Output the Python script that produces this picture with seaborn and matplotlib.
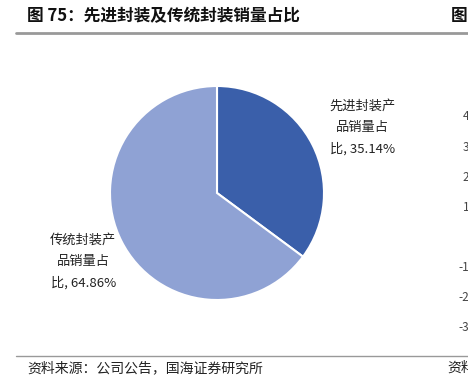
import matplotlib
matplotlib.use("Agg")
import matplotlib.pyplot as plt
import seaborn as sns

# 数据
categories = ["先进封装产\n品销量占\n比", "传统封装产\n品销量占\n比"]
shares = [35.14, 64.86]
colors = ["#3A5FAA", "#8FA2D4"]
side_ticks = ["40", "30", "20", "10", "0", "-10", "-20", "-30"]

sns.set_style("white")
plt.rcParams["font.family"] = ["Noto Sans CJK SC", "DejaVu Sans"]

W, H = 468, 385
fig = plt.figure(figsize=(W / 100, H / 100), dpi=100)

def px(x, y):
    return x / W, 1 - y / H

# 饼图
cx, cy, r = 217, 193, 107
ax = fig.add_axes([(cx - r) / W, 1 - (cy + r) / H, 2 * r / W, 2 * r / H])
ax.pie(shares, colors=colors, startangle=90, counterclock=False,
       wedgeprops=dict(edgecolor="white", linewidth=1.5))
ax.set_xlim(-1, 1)
ax.set_ylim(-1, 1)
ax.set_aspect("auto")
ax.axis("off")

label_pos = [(1.36, 0.61), (-1.25, -0.645)]
for cat, val, (lx, ly) in zip(categories, shares, label_pos):
    ax.text(lx, ly, f"{cat}, {val:.2f}%", ha="center", va="center",
            fontsize=9.5, linespacing=1.8, color="#222222", clip_on=False)

# 标题
fig.text(*px(27, 16), "图 75：先进封装及传统封装销量占比", fontsize=12,
         fontweight="bold", va="center", ha="left", color="#111111")
fig.text(*px(451, 16), "图 7", fontsize=12, fontweight="bold",
         va="center", ha="left", color="#111111")
fig.add_artist(plt.Line2D([16 / W, 1], [1 - 33 / H] * 2, color="#999999", lw=2))

# 右侧邻图刻度残留
for i, t in enumerate(side_ticks):
    fig.text(*px(476, 117 + i * 30.1), t, fontsize=8.5, ha="right",
             va="center", color="#444444")

# 来源
fig.add_artist(plt.Line2D([16 / W, 1], [1 - 356 / H] * 2, color="#999999", lw=1.0))
fig.text(*px(27, 368), "资料来源：公司公告，国海证券研究所", fontsize=10,
         va="center", ha="left", color="#222222")
fig.text(*px(447, 368), "资料", fontsize=10, va="center", ha="left",
         color="#222222")

fig.savefig("out.png", dpi=100)
